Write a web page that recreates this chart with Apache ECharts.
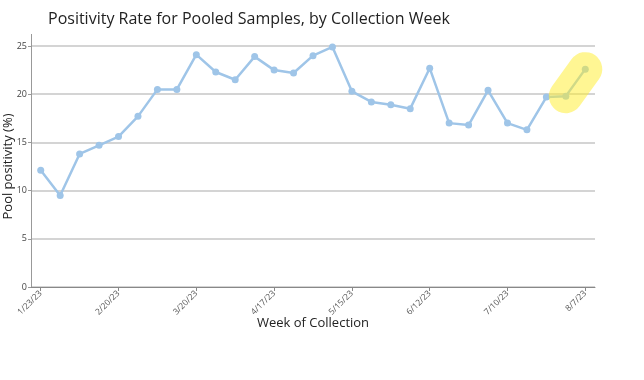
<!DOCTYPE html>
<html>
<head>
<meta charset="utf-8">
<script src="https://cdn.jsdelivr.net/npm/echarts@6/dist/echarts.min.js"></script>
<style>html,body{margin:0;padding:0;background:#fff;}#c{width:644px;height:380px;}</style>
</head>
<body>
<div id="c"></div>
<script>
var weeks = ['1/23/23','1/30/23','2/6/23','2/13/23','2/20/23','2/27/23','3/6/23','3/13/23','3/20/23','3/27/23','4/3/23','4/10/23','4/17/23','4/24/23','5/1/23','5/8/23','5/15/23','5/22/23','5/29/23','6/5/23','6/12/23','6/19/23','6/26/23','7/3/23','7/10/23','7/17/23','7/24/23','7/31/23','8/7/23'];
var positivity = [12.1,9.5,13.8,14.7,15.6,17.7,20.5,20.5,24.1,22.3,21.5,23.9,22.5,22.2,24.0,24.9,20.3,19.2,18.9,18.5,22.7,17.0,16.8,20.4,17.0,16.3,19.7,19.8,22.6];
var highlightIdx = [27, 28];
var yTicks = [0,5,10,15,20,25];

var highlight = positivity.map(function(v,i){ return highlightIdx.indexOf(i) >= 0 ? v : null; });
var font = '"Open Sans", sans-serif';
var chart = echarts.init(document.getElementById('c'), null, {renderer:'canvas'});
chart.setOption({
  animation: false,
  title: {
    text: 'Positivity Rate for Pooled Samples, by Collection Week',
    left: 43, top: 6,
    textStyle: {fontFamily: font, fontSize: 16, fontWeight: 'normal', color: '#222'}
  },
  grid: {left: 31, right: 49, top: 46, bottom: 93, containLabel: false, outerBoundsMode: 'none'},
  xAxis: {
    type: 'category',
    data: weeks,
    boundaryGap: true,
    name: 'Week of Collection',
    nameLocation: 'middle',
    nameGap: 30,
    nameMoveOverlap: false,
    nameTextStyle: {fontFamily: font, fontSize: 13, color: '#222'},
    axisLine: {lineStyle: {color: '#888', width: 1}},
    axisTick: {show: true, alignWithLabel: true, interval: 3, length: 4, lineStyle: {color: '#888'}},
    axisLabel: {interval: 3, rotate: 45, fontFamily: font, fontSize: 8.5, color: '#555', margin: 5, hideOverlap: false},
    splitLine: {show: false}
  },
  yAxis: {
    type: 'value',
    min: yTicks[0], max: yTicks[yTicks.length-1], interval: 5,
    name: 'Pool positivity (%)',
    nameLocation: 'middle',
    nameGap: 16,
    nameMoveOverlap: false,
    nameTextStyle: {fontFamily: font, fontSize: 13, color: '#222'},
    axisLine: {show: true, lineStyle: {color: '#999', width: 1}},
    axisTick: {show: true, length: 3, lineStyle: {color: '#999'}},
    axisLabel: {fontFamily: font, fontSize: 9, color: '#444', margin: 4},
    splitLine: {show: true, lineStyle: {color: '#d4d4d4', width: 2}}
  },
  graphic: [{
    type: 'line', z: 1,
    shape: {x1: 31.5, y1: 34, x2: 31.5, y2: 46},
    style: {stroke: '#999', lineWidth: 1}
  }],
  series: [{
    type: 'line',
    data: positivity,
    symbol: 'circle',
    symbolSize: 7,
    lineStyle: {color: '#9fc5e8', width: 2.5},
    itemStyle: {color: '#9fc5e8'},
    z: 2
  }, {
    type: 'line',
    data: highlight,
    showSymbol: false,
    symbol: 'none',
    connectNulls: false,
    lineStyle: {color: 'rgba(255,238,40,0.5)', width: 34, cap: 'round', join: 'round'},
    z: 5,
    silent: true
  }]
});
</script>
</body>
</html>
